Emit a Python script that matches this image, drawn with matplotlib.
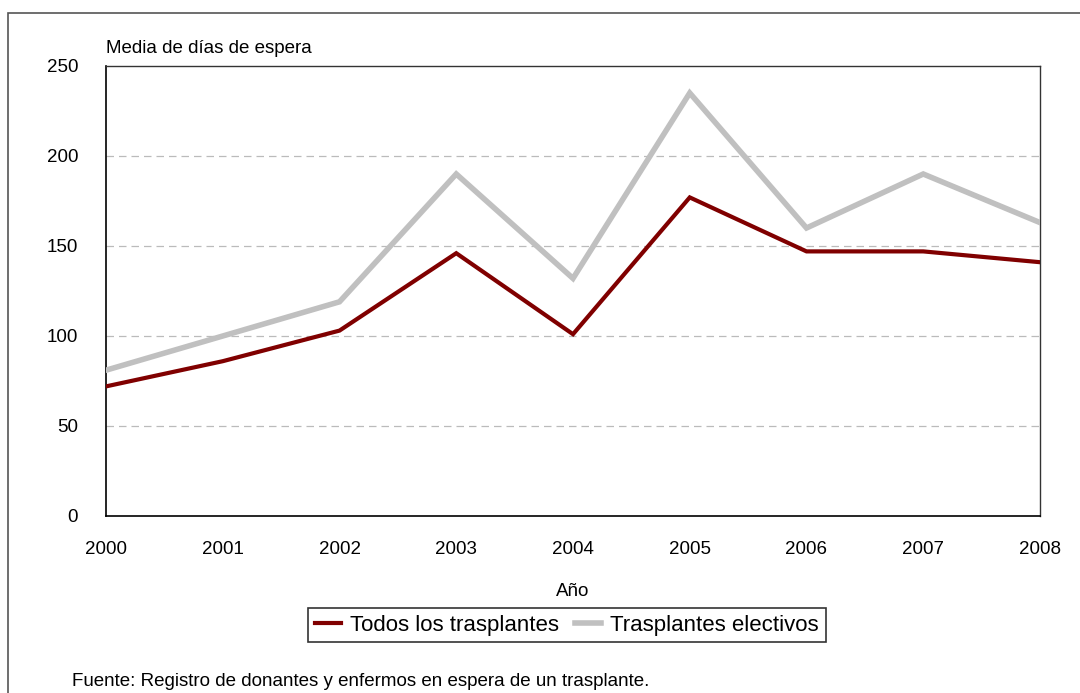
import matplotlib
matplotlib.use("Agg")
import matplotlib.pyplot as plt
from matplotlib.patches import Rectangle

# data
years = [2000, 2001, 2002, 2003, 2004, 2005, 2006, 2007, 2008]
todos = [72, 86, 103, 146, 101, 177, 147, 147, 141]
electivos = [81, 100, 119, 190, 132, 235, 160, 190, 163]
y_ticks = [0, 50, 100, 150, 200, 250]

RED = "#800000"
GREY = "#c0c0c0"

plt.rcParams["font.family"] = ["Liberation Sans Narrow", "Liberation Sans", "DejaVu Sans"]

fig = plt.figure(figsize=(10.8, 6.93), dpi=100)
W, H = 1080, 693

# outer frame of the figure
fig.patches.append(Rectangle((8 / W, -0.1), 1.2, 1 - 13 / H + 0.1,
                             transform=fig.transFigure, fill=False,
                             edgecolor="#555555", linewidth=1.2))

ax = fig.add_axes([106 / W, 1 - 516 / H, (1040 - 106) / W, (516 - 66) / H])

ax.plot(years, electivos, color=GREY, linewidth=4, label="Trasplantes electivos",
        solid_joinstyle="miter", zorder=3)
ax.plot(years, todos, color=RED, linewidth=3, label="Todos los trasplantes",
        solid_joinstyle="miter", zorder=4)

ax.set_xlim(2000, 2008)
ax.set_ylim(0, 250)
ax.set_xticks(years)
ax.set_yticks(y_ticks)
ax.tick_params(axis="both", length=0, labelsize=13.5)
ax.tick_params(axis="x", pad=18)
ax.tick_params(axis="y", pad=20)

for y in y_ticks[1:-1]:
    ax.axhline(y, color="#bbbbbb", linewidth=0.9, linestyle=(0, (6, 4)), zorder=1)

for side in ["left", "bottom"]:
    ax.spines[side].set_color("black")
    ax.spines[side].set_linewidth(1.2)
for side in ["top", "right"]:
    ax.spines[side].set_color("#333333")
    ax.spines[side].set_linewidth(1.0)

ax.set_xlabel("Año", fontsize=13.5, labelpad=18)
ax.text(0, 1.02, "Media de días de espera", transform=ax.transAxes,
        fontsize=13.5, ha="left", va="bottom")

handles, labels = ax.get_legend_handles_labels()
leg = fig.legend(handles[::-1], labels[::-1], loc="upper left", ncol=2,
                 bbox_to_anchor=(308 / W, 1 - 608 / H), fontsize=16,
                 frameon=True, fancybox=False, edgecolor="black",
                 handlelength=1.2, handletextpad=0.4, columnspacing=0.7,
                 borderpad=0.3, borderaxespad=0)
leg.get_frame().set_linewidth(1.2)

fig.text(72 / W, 1 - 682 / H, "Fuente: Registro de donantes y enfermos en espera de un trasplante.",
         fontsize=13.5, ha="left", va="center")

fig.savefig("out.png", dpi=100)
